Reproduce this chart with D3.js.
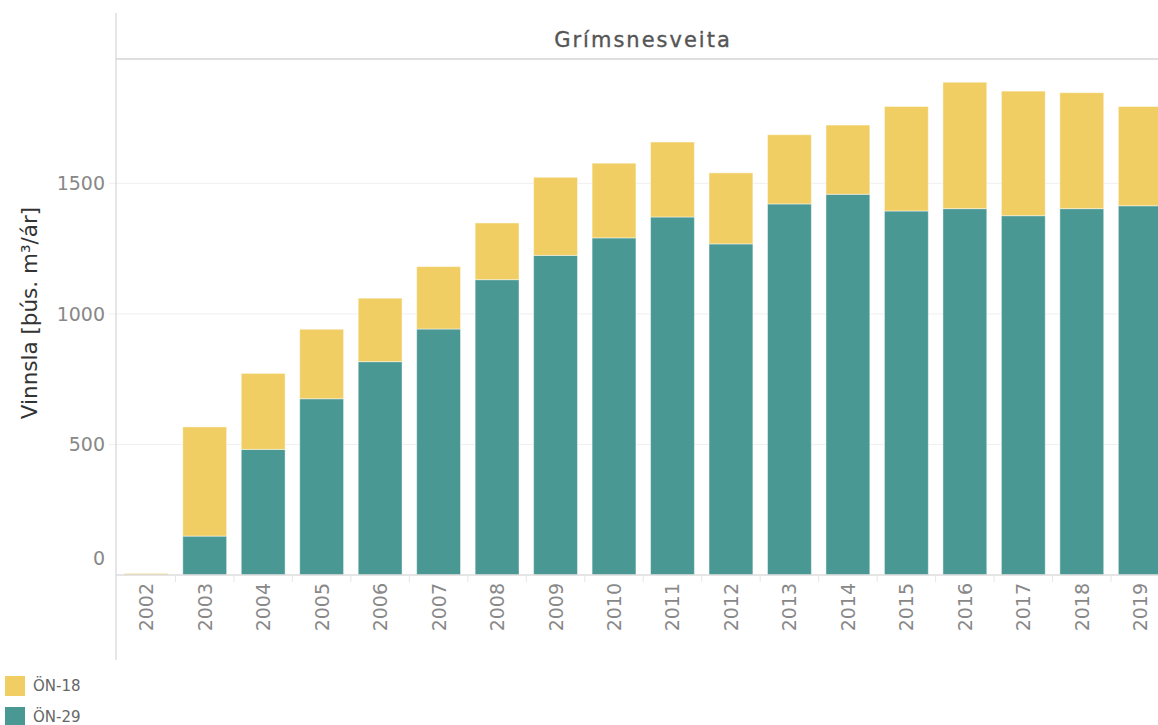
<!DOCTYPE html>
<html>
<head>
<meta charset="utf-8">
<script src="https://cdn.jsdelivr.net/npm/d3@7"></script>
<style>
  body { margin: 0; background: #fff; }
  svg { display: block; font-family: "DejaVu Sans", Verdana, sans-serif; }
</style>
</head>
<body>
<svg id="chart" width="1158" height="725"></svg>
<script>
// Data (þús. m³/ár)
const years = ["2002","2003","2004","2005","2006","2007","2008","2009","2010",
               "2011","2012","2013","2014","2015","2016","2017","2018","2019"];
const on29 = [0, 149, 481, 675, 817, 942, 1131, 1224, 1291, 1371, 1268, 1421, 1458, 1394, 1403, 1376, 1403, 1414];
const on18 = [6, 418, 291, 266, 243, 239, 217, 299, 286, 287, 272, 265, 265, 400, 484, 477, 444, 380];
const yTicks = [0, 500, 1000, 1500];
const seriesKeys = ["ÖN-29", "ÖN-18"];
const legendKeys = ["ÖN-18", "ÖN-29"];

const colors = {"ÖN-18": "#F1CE63", "ÖN-29": "#499894"};

const svg = d3.select("#chart");

// plot geometry
const plotLeft = 117, plotRight = 1169.5, plotTop = 59, base = 575;

const x = d3.scaleBand()
  .domain(years)
  .range([plotLeft, plotRight])
  .paddingInner(0.25)
  .paddingOuter(0.125);

const y = d3.scaleLinear()
  .domain([0, 1500])
  .range([base, 183.3]);

// gridlines
svg.append("g")
  .selectAll("line")
  .data(yTicks.filter(d => d > 0))
  .enter().append("line")
  .attr("x1", plotLeft - 8).attr("x2", 1158)
  .attr("y1", d => y(d)).attr("y2", d => y(d))
  .attr("stroke", "#efefef")
  .attr("stroke-width", 1);

// stacked bars
const table = years.map((yr, i) => ({year: yr, "ÖN-29": on29[i], "ÖN-18": on18[i]}));
const stacked = d3.stack().keys(seriesKeys)(table);

svg.append("g")
  .selectAll("g")
  .data(stacked)
  .enter().append("g")
  .attr("fill", d => colors[d.key])
  .selectAll("rect")
  .data(d => d)
  .enter().append("rect")
  .attr("x", d => x(d.data.year))
  .attr("width", x.bandwidth())
  .attr("y", d => y(d[1]))
  .attr("height", d => Math.max(0, y(d[0]) - y(d[1])))
  .attr("stroke", "#ffffff")
  .attr("stroke-opacity", 0.45)
  .attr("stroke-width", 1);

// baseline
svg.append("line")
  .attr("x1", plotLeft - 1).attr("x2", 1158)
  .attr("y1", base).attr("y2", base)
  .attr("stroke", "#dcdcdc").attr("stroke-width", 1.5);

// x axis: category separators and rotated labels
const xAxis = svg.append("g");
xAxis.selectAll("line.sep")
  .data(years.slice(1))
  .enter().append("line")
  .attr("class", "sep")
  .attr("x1", d => x(d) - x.step() * x.paddingInner() / 2)
  .attr("x2", d => x(d) - x.step() * x.paddingInner() / 2)
  .attr("y1", base).attr("y2", base + 7)
  .attr("stroke", "#e6e6e6");

xAxis.selectAll("text")
  .data(years)
  .enter().append("text")
  .attr("transform", d => "translate(" + (x(d) + x.bandwidth() / 2 + 7) + "," + (base + 8) + ") rotate(-90)")
  .attr("text-anchor", "end")
  .attr("fill", "#888")
  .attr("font-size", "19px")
  .text(d => d);

// y axis
svg.append("line")
  .attr("x1", 116).attr("x2", 116)
  .attr("y1", 13).attr("y2", 660)
  .attr("stroke", "#d6d6d6").attr("stroke-width", 1.2);

svg.append("g")
  .selectAll("text")
  .data(yTicks)
  .enter().append("text")
  .attr("x", 105)
  .attr("y", d => d === 0 ? y(d) - 17 : y(d))
  .attr("dy", "0.36em")
  .attr("text-anchor", "end")
  .attr("fill", "#888")
  .attr("font-size", "19px")
  .text(d => d);

svg.append("text")
  .attr("transform", "translate(37,313) rotate(-90)")
  .attr("text-anchor", "middle")
  .attr("fill", "#333")
  .attr("font-size", "21.5px")
  .text("Vinnsla [þús. m³/ár]");

// header pane
svg.append("line")
  .attr("x1", 116).attr("x2", 1158)
  .attr("y1", plotTop).attr("y2", plotTop)
  .attr("stroke", "#d4d4d4").attr("stroke-width", 1.5);

svg.append("text")
  .attr("x", 643).attr("y", 46.5)
  .attr("text-anchor", "middle")
  .attr("fill", "#555")
  .attr("stroke", "#555")
  .attr("stroke-width", 0.35)
  .attr("letter-spacing", "2px")
  .attr("font-size", "21px")
  .text("Grímsnesveita");

// legend
const legend = svg.append("g")
  .selectAll("g")
  .data(legendKeys)
  .enter().append("g")
  .attr("transform", (d, i) => "translate(5," + (676 + i * 31) + ")");

legend.append("rect")
  .attr("width", 20).attr("height", 20)
  .attr("fill", d => colors[d]);

legend.append("text")
  .attr("x", 28).attr("y", 10)
  .attr("dy", "0.36em")
  .attr("fill", "#666")
  .attr("font-size", "15px")
  .text(d => d);
</script>
</body>
</html>
